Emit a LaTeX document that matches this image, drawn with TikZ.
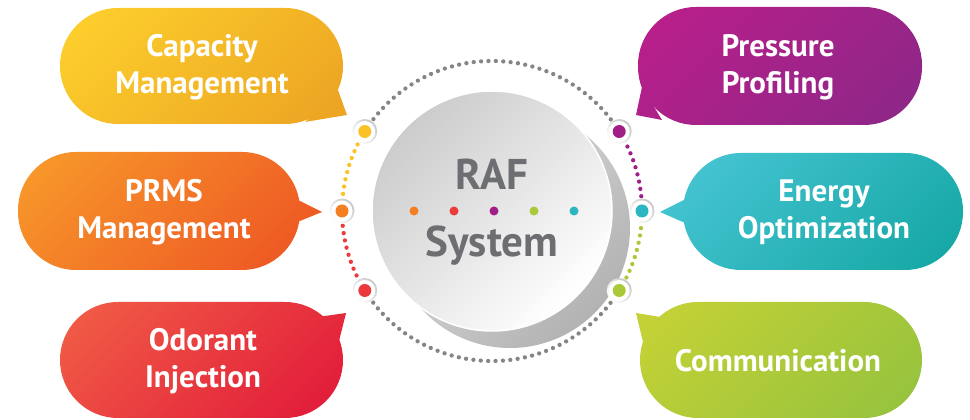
\documentclass[tikz,border=0pt]{standalone}
\usepackage{fontspec}
\setmainfont{PT Sans}
\usetikzlibrary{calc}
\definecolor{capA}{HTML}{FCCE2C}\definecolor{capB}{HTML}{EDA623}
\definecolor{prmA}{HTML}{F7962A}\definecolor{prmB}{HTML}{EE5A24}
\definecolor{odoA}{HTML}{F05A45}\definecolor{odoB}{HTML}{E21D3A}
\definecolor{preA}{HTML}{B81F8A}\definecolor{preB}{HTML}{8E2788}
\definecolor{eneA}{HTML}{43C3D0}\definecolor{eneB}{HTML}{17A8A6}
\definecolor{comA}{HTML}{C3D136}\definecolor{comB}{HTML}{97C33D}
\definecolor{dY}{HTML}{FBC226}\definecolor{dO}{HTML}{F47F20}
\definecolor{dR}{HTML}{EA3A3B}\definecolor{dP}{HTML}{A11E86}
\definecolor{dT}{HTML}{2BB6C1}\definecolor{dG}{HTML}{A9C83A}
\definecolor{ringgrey}{HTML}{858585}
\definecolor{txtgrey}{HTML}{6D6E71}
\newcommand\mybubble[7]{%
  \begin{scope}\clip[rounded corners=58pt] (#1,#2) rectangle (#3,#4);
    \shade[left color=#6,right color=#7,shading angle=45] (#1-30,#2-5) rectangle (#3+30,#4+5);\end{scope}
  \begin{scope}\clip #5;
    \shade[left color=#6,right color=#7,shading angle=45] (#1-30,#2-5) rectangle (#3+30,#4+5);\end{scope}}
\newcommand\mynode[3]{%
  \shade[left color=black!22,right color=white,shading angle=-45] (#1) circle[radius=12.5];
  \fill[white] (#1) circle[radius=10.5];
  \fill[#2] (#1) circle[radius=6.5];}
\begin{document}
\begin{tikzpicture}[x=1pt,y=1pt,
  lbl/.style={text=white,font=\bfseries\fontsize{31}{37}\selectfont,align=center,inner sep=0pt},
  ctr/.style={text=txtgrey,font=\bfseries\fontsize{43}{50}\selectfont,inner sep=0pt,anchor=base},
  ringdots/.style={line width=4.3pt,line cap=round,dash pattern=on 0pt off 7.4pt}]
\useasboundingbox (0,0) rectangle (970,420);
% bubbles
\mybubble{60}{296}{343}{412}{(338,330) -- (347,305) -- (305,298) -- cycle}{capA}{capB}
\mybubble{18}{150}{300}{268}{(290,224) -- (322,208) -- (290,195) -- cycle}{prmA}{prmB}
\mybubble{60}{2}{343}{118}{(318,103) -- (346,107) -- (338,75) -- cycle}{odoA}{odoB}
\mybubble{638}{295}{922}{413}{(642,333) -- (636,305) -- (662,300) -- cycle}{preA}{preB}
\mybubble{683}{150}{963}{267}{(692,224) -- (660,208) -- (692,194) -- cycle}{eneA}{eneB}
\mybubble{640}{2}{922}{118}{(660,103) -- (636,107) -- (643,78) -- cycle}{comA}{comB}
\node[lbl] (cap) at (202,353) {Capacity\\Management};
\node[lbl] (prms) at (164,208) {PRMS\\Management};
\node[lbl] (odor) at (203,59) {Odorant\\Injection};
\node[lbl] (press) at (778,353) {Pressure\\Profiling};
\node[lbl] (energy) at (824,208) {Energy\\Optimization};
\node[lbl] (comm) at (778,59) {Communication};
% ring nodes
\coordinate (c) at (492,209);
\coordinate (nY) at ($(c)+(148:150)$);
\coordinate (nO) at ($(c)+(180:150)$);
\coordinate (nR) at ($(c)+(212:150)$);
\coordinate (nP) at ($(c)+(32:150)$);
\coordinate (nT) at ($(c)+(0:150)$);
\coordinate (nG) at ($(c)+(-32:150)$);
% ring arcs
\draw[ringdots,ringgrey] (nP) arc[start angle=32,end angle=148,radius=150];
\draw[ringdots,dY] (nY) arc[start angle=148,end angle=180,radius=150];
\draw[ringdots,dR] (nO) arc[start angle=180,end angle=212,radius=150];
\draw[ringdots,ringgrey] (nR) arc[start angle=212,end angle=328,radius=150];
\draw[ringdots,dG] (nG) arc[start angle=-32,end angle=0,radius=150];
\draw[ringdots,dP] (nT) arc[start angle=0,end angle=32,radius=150];
% central circle with shadow
\shade[left color=black!12,right color=black!30,shading angle=45] (510,192) circle[radius=120];
\shade[left color=black!20,right color=white,shading angle=45,draw=white,line width=1.5pt] (c) circle[radius=120];
\mynode{nY}{dY}{}
\mynode{nO}{dO}{}
\mynode{nR}{dR}{}
\mynode{nP}{dP}{}
\mynode{nT}{dT}{}
\mynode{nG}{dG}{}
% centre text
\node[ctr] (raf) at (492,230) {RAF};
\node[ctr] (sys) at (492,163) {System};
\fill[dO] (414,209) circle[radius=4.5];
\fill[dR] (454,209) circle[radius=4.5];
\fill[dP] (494,209) circle[radius=4.5];
\fill[dG] (534,209) circle[radius=4.5];
\fill[dT] (574,209) circle[radius=4.5];
\end{tikzpicture}
\end{document}
